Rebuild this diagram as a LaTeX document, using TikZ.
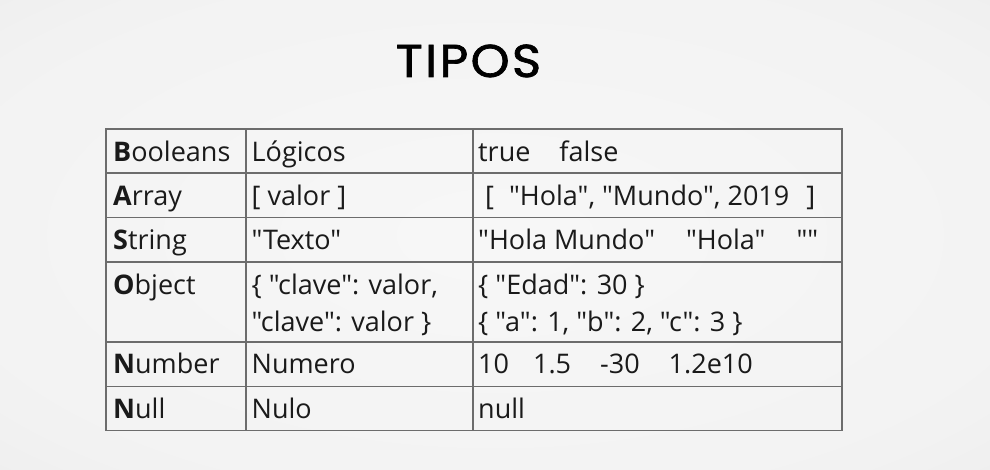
\documentclass[tikz,border=0pt]{standalone}
\usepackage{fontspec}
\newfontfamily\cellfont{Open Sans}
\newfontfamily\titlefont{Poppins}[LetterSpace=5, FakeStretch=1.08, FakeBold=1.5]
\definecolor{gridgray}{HTML}{6C6C6C}
\definecolor{inkblack}{HTML}{1A1A1A}
\pgfdeclareradialshading{slidebg}{\pgfpoint{0bp}{0bp}}{color(0bp)=(white!97!black); color(30bp)=(white!95!black); color(71bp)=(white!86!black)}
\tikzset{
  cell/.style={anchor=base west, inner sep=0pt, text=inkblack, font=\cellfont\fontsize{27}{31}\selectfont},
  gridline/.style={draw=gridgray, line width=1.2pt}
}
\begin{document}
\begin{tikzpicture}[x=1pt, y=-1pt]
        % Slide background
        \useasboundingbox (0,0) rectangle (990,470);
        \shade [shading=slidebg] (0,0) rectangle (990,470);

        % Title
        \node [anchor=base, inner sep=0pt, text=black, font=\titlefont\fontsize{46}{52}\selectfont] (title) at (468.5,77) {TIPOS};

        % Table grid
        \draw [gridline] (106,129) rectangle (842,430.5);
        \draw [gridline] (106,173) -- (842,173);
        \draw [gridline] (106,217.5) -- (842,217.5);
        \draw [gridline] (106,262) -- (842,262);
        \draw [gridline] (106,342) -- (842,342);
        \draw [gridline] (106,386.5) -- (842,386.5);
        \draw [gridline] (246,129) -- (246,430.5);
        \draw [gridline] (473,129) -- (473,430.5);

        % Booleans
        \node [cell] (bo1) at (113,161.5) {\textbf{B}ooleans};
        \node [cell] (bo2) at (251.5,161.5) {Lógicos};
        \node [cell] (bo3) at (478,161.5) {true\hspace{29pt}false};

        % Array
        \node [cell] (ar1) at (113,205.5) {\textbf{A}rray};
        \node [cell] (ar2) at (251.5,205.5) {[ valor ]};
        \node [cell] (ar3) at (485,205.5) {[\hspace{15pt}"Hola", "Mundo", 2019\hspace{17pt}]};

        % String
        \node [cell] (st1) at (113,250) {\textbf{S}tring};
        \node [cell] (st2) at (251.5,250) {"Texto"};
        \node [cell] (st3) at (478,250) {"Hola Mundo"\hspace{31pt}"Hola"\hspace{31pt}""};

        % Object
        \node [cell] (ob1) at (113,294.5) {\textbf{O}bject};
        \node [cell] (ob2) at (251.5,294.5) {\{ "clave": valor,};
        \node [cell] (ob2b) at (251.5,331.5) {"clave": valor \}};
        \node [cell] (ob3) at (478,294.5) {\{ "Edad": 30 \}};
        \node [cell] (ob3b) at (478,331.5) {\{ "a": 1, "b": 2, "c": 3 \}};

        % Number
        \node [cell] (nu1) at (113,373.5) {\textbf{N}umber};
        \node [cell] (nu2) at (251.5,373.5) {Numero};
        \node [cell] (nu3) at (478,373.5) {10\hspace{24pt}1.5\hspace{29pt}-30\hspace{29pt}1.2e10};

        % Null
        \node [cell] (nl1) at (113,418.5) {\textbf{N}ull};
        \node [cell] (nl2) at (251.5,418.5) {Nulo};
        \node [cell] (nl3) at (478,418.5) {null};
\end{tikzpicture}
\end{document}
